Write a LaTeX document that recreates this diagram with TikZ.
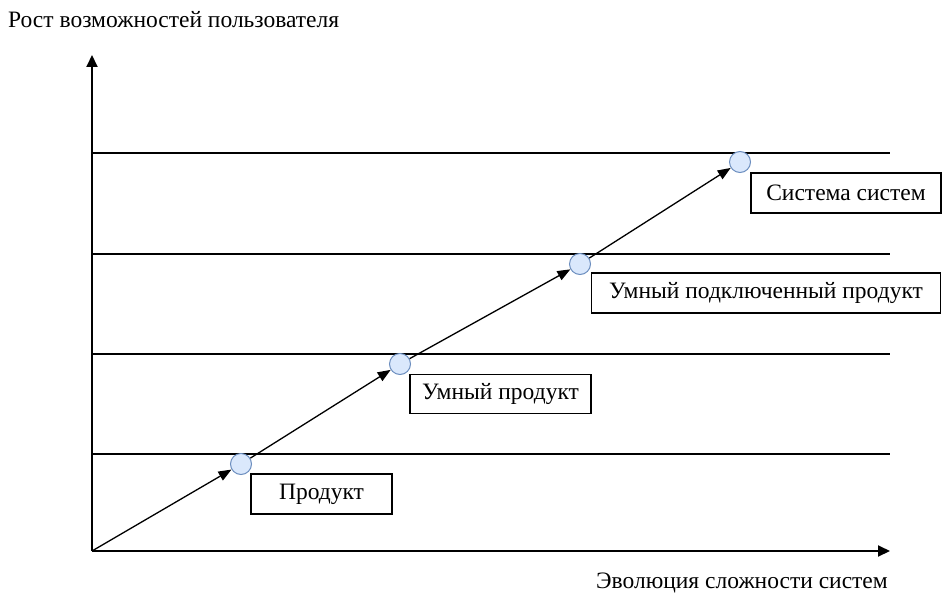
\documentclass[tikz,border=0pt]{standalone}
\usepackage{fontspec}
\setmainfont{Liberation Serif}
\usetikzlibrary{arrows.meta}
\definecolor{stagefill}{HTML}{DAE8FC}
\definecolor{stageline}{HTML}{6C8EBF}
\begin{document}
\begin{tikzpicture}[x=1pt,y=-1pt,
  axis/.style={line width=2pt,-{Triangle[length=12pt,width=11pt]}},
  level/.style={line width=1.3pt},
  step arrow/.style={line width=1.3pt,-{Triangle[length=13pt,width=10pt]}},
  stage/.style={circle,draw=stageline,fill=stagefill,line width=1pt,minimum size=21pt,inner sep=0pt},
  label box/.style={draw,line width=1.3pt,inner sep=0pt,font=\fontsize{23.5}{26}\selectfont},
  caption/.style={font=\fontsize{23.5}{26}\selectfont,inner sep=0pt}
]
\useasboundingbox (0,0) rectangle (942,594);

% axes
\coordinate (o) at (92,551);
\coordinate (ytop) at (92,55);
\coordinate (xend) at (890,551);
\draw[axis] (o) -- (ytop);
\draw[axis] (o) -- (xend);

% capability levels
\foreach \y in {153,254,354,454}
  \draw[level] (92,\y) -- (890,\y);

% stages
\node[stage] (s1) at (241,464) {};
\node[stage] (s2) at (400,364) {};
\node[stage] (s3) at (580,264) {};
\node[stage] (s4) at (740,162) {};

\draw[step arrow] (o) -- (s1);
\draw[step arrow] (s1) -- (s2);
\draw[step arrow] (s2) -- (s3);
\draw[step arrow] (s3) -- (s4);

% stage labels
\node[label box,minimum width=141pt,minimum height=40pt] (l1) at (321.5,494) {Продукт};
\node[label box,minimum width=181pt,minimum height=39pt] (l2) at (500.5,394) {Умный продукт};
\node[label box,minimum width=349pt,minimum height=40pt] (l3) at (766,293) {Умный подключенный продукт};
\node[label box,minimum width=190pt,minimum height=40pt] (l4) at (846,193) {Система систем};

% axis captions
\node[caption,anchor=west] (ycap) at (8,20) {Рост возможностей пользователя};
\node[caption,anchor=east] (xcap) at (888,583) {Эволюция сложности систем};
\end{tikzpicture}
\end{document}
